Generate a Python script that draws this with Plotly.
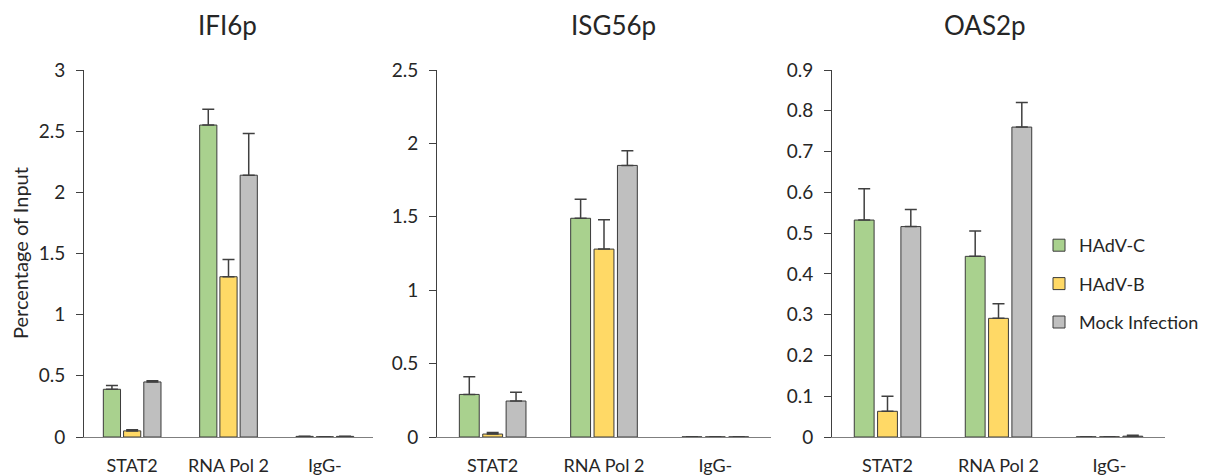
import plotly.graph_objects as go

categories = ["STAT2", "RNA Pol 2", "IgG-"]
series_names = ["HAdV-C", "HAdV-B", "Mock Infection"]
colors = ["#A9D18E", "#FFD966", "#BFBFBF"]

panel_titles = ["IFI6p", "ISG56p", "OAS2p"]

# IFI6p
ifi6_c = [0.39, 2.55, 0.005]
ifi6_b = [0.05, 1.31, 0.002]
ifi6_m = [0.45, 2.14, 0.005]
ifi6_c_err = [0.03, 0.13, 0.002]
ifi6_b_err = [0.01, 0.14, 0.001]
ifi6_m_err = [0.01, 0.34, 0.002]

# ISG56p
isg56_c = [0.29, 1.49, 0.001]
isg56_b = [0.02, 1.28, 0.001]
isg56_m = [0.245, 1.85, 0.001]
isg56_c_err = [0.12, 0.13, 0.0]
isg56_b_err = [0.01, 0.20, 0.0]
isg56_m_err = [0.06, 0.10, 0.0]

# OAS2p
oas2_c = [0.532, 0.443, 0.0005]
oas2_b = [0.063, 0.291, 0.0005]
oas2_m = [0.516, 0.760, 0.002]
oas2_c_err = [0.077, 0.062, 0.0]
oas2_b_err = [0.037, 0.036, 0.0]
oas2_m_err = [0.042, 0.060, 0.002]

y_ranges = [[0, 3], [0, 2.5], [0, 0.9]]
y_dticks = [0.5, 0.5, 0.1]

panels = [
    ([ifi6_c, ifi6_b, ifi6_m], [ifi6_c_err, ifi6_b_err, ifi6_m_err]),
    ([isg56_c, isg56_b, isg56_m], [isg56_c_err, isg56_b_err, isg56_m_err]),
    ([oas2_c, oas2_b, oas2_m], [oas2_c_err, oas2_b_err, oas2_m_err]),
]

# page body has an 8px margin, so figure coords = window coords - 8
W, H = 1200, 468
x_px = [(76, 365), (429, 763), (824, 1157)]
y_bottom_px, y_top_px = 429, 62
title_x_px = [219, 605, 977]

FONT = "Lato"
TXT = "#262626"

fig = go.Figure()
for p, (vals, errs) in enumerate(panels):
    xa = "x" if p == 0 else f"x{p+1}"
    ya = "y" if p == 0 else f"y{p+1}"
    for s in range(3):
        fig.add_trace(go.Bar(
            x=categories, y=vals[s], name=series_names[s],
            marker=dict(color=colors[s], line=dict(color="#3a3a3a", width=1)),
            error_y=dict(type="data", array=errs[s], symmetric=False,
                         arrayminus=[0] * 3, color="#404040", thickness=1.5, width=6),
            xaxis=xa, yaxis=ya, showlegend=(p == 0), legendgroup=series_names[s],
        ))

layout = dict(
    width=W, height=H, margin=dict(l=0, r=0, t=0, b=0),
    plot_bgcolor="white", paper_bgcolor="white",
    barmode="group", bargap=0.37, bargroupgap=0.15,
    font=dict(family=FONT, color=TXT, size=18),
    legend=dict(x=1031 / W, y=1 - 219 / H, xanchor="left", yanchor="top",
                font=dict(size=18, family=FONT, color=TXT), tracegroupgap=12,
                itemwidth=30, bgcolor="rgba(0,0,0,0)"),
    showlegend=True,
)
annotations = []
for p in range(3):
    suf = "" if p == 0 else str(p + 1)
    x0, x1 = x_px[p]
    layout["xaxis" + suf] = dict(
        domain=[x0 / W, x1 / W], anchor="y" + suf, showline=True, linecolor="#7f7f7f",
        linewidth=1.2, ticks="", showgrid=False, zeroline=False, automargin=False,
        tickfont=dict(size=18, family=FONT, color=TXT), ticklabelstandoff=12,
        fixedrange=True,
    )
    layout["yaxis" + suf] = dict(
        domain=[(H - y_bottom_px) / H, (H - y_top_px) / H], anchor="x" + suf,
        range=y_ranges[p], dtick=y_dticks[p], showline=True, linecolor="#404040",
        linewidth=1, ticks="outside", ticklen=7, tickcolor="#404040", showgrid=False,
        zeroline=False, automargin=False, tickfont=dict(size=19, family=FONT, color=TXT),
        ticklabelstandoff=7,
    )
    annotations.append(dict(text=panel_titles[p], x=title_x_px[p] / W, y=1.0,
                            xref="paper", yref="paper", showarrow=False,
                            xanchor="center", yanchor="top", borderpad=0,
                            font=dict(size=26, family=FONT, color=TXT)))
annotations.append(dict(text="Percentage of Input", x=12 / W, y=(H - 245) / H,
                        xref="paper", yref="paper", showarrow=False, textangle=-90,
                        xanchor="center", yanchor="middle",
                        font=dict(size=20, family=FONT, color=TXT)))
layout["annotations"] = annotations
fig.update_layout(**layout)
fig.write_html("out.html")
